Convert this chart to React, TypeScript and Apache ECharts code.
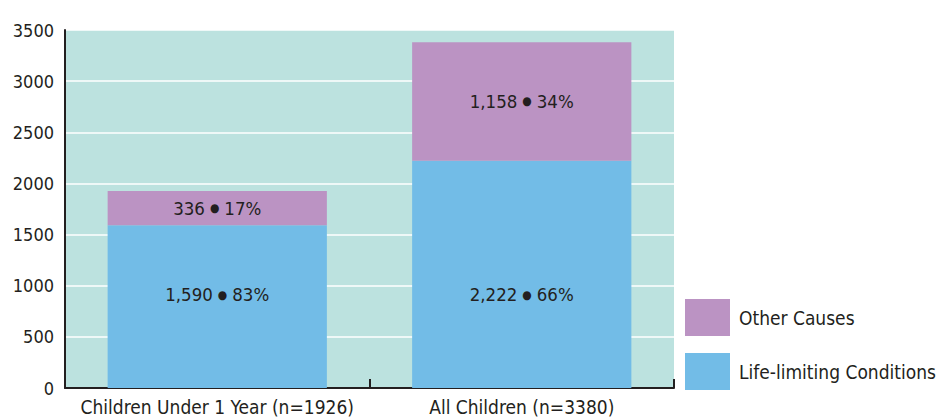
import React, { useEffect, useRef } from "react";
import * as echarts from "echarts";

const categories = ["Children Under 1 Year (n=1926)", "All Children (n=3380)"];
const lifeLimiting = [1590, 2222];
const otherCauses = [336, 1158];
const lifePct = ["83%", "66%"];
const otherPct = ["17%", "34%"];
const yTicks = [0, 500, 1000, 1500, 2000, 2500, 3000, 3500];

const FONT = "'DejaVu Sans Condensed', 'Liberation Sans Narrow', 'Roboto', sans-serif";
const fmt = (v: number) => v.toLocaleString("en-US");

const labelRich = {
  n: { fontFamily: FONT, fontSize: 18.5, color: "#231f20", verticalAlign: "middle" },
  b: { fontFamily: FONT, fontSize: 12, color: "#231f20", padding: [0, 5, 0, 5], verticalAlign: "middle" },
};

export default function App() {
  const ref = useRef<HTMLDivElement>(null);
  useEffect(() => {
    document.body.style.margin = "0";
    const chart = echarts.init(ref.current!, undefined, { renderer: "svg" });
    chart.setOption({
      animation: false,
      textStyle: { fontFamily: FONT, color: "#231f20" },
      grid: {
        left: 65,
        right: 264,
        top: 30,
        bottom: 30,
        show: true,
        backgroundColor: "#bce2df",
        borderWidth: 0,
      },
      legend: {
        orient: "vertical",
        left: 685,
        top: 299,
        padding: 0,
        itemWidth: 45,
        itemHeight: 37,
        itemGap: 17,
        icon: "rect",
        data: ["Other Causes", "Life-limiting Conditions"],
        textStyle: { fontFamily: FONT, fontSize: 19, color: "#231f20", padding: [0, 0, 0, 4] },
      },
      xAxis: {
        type: "category",
        data: categories,
        axisLine: { show: true, lineStyle: { color: "#231f20", width: 2 } },
        axisTick: { show: true, inside: true, length: 9, lineStyle: { color: "#231f20", width: 2 } },
        axisLabel: { interval: 0, fontFamily: FONT, fontSize: 19, color: "#231f20", margin: 9 },
      },
      yAxis: {
        type: "value",
        min: yTicks[0],
        max: yTicks[yTicks.length - 1],
        interval: 500,
        axisLine: { show: true, lineStyle: { color: "#231f20", width: 2 } },
        axisTick: { show: false },
        splitLine: { show: true, lineStyle: { color: "#ffffff", width: 1.5 } },
        axisLabel: {
          fontFamily: FONT,
          fontSize: 18,
          color: "#231f20",
          margin: 11,
          formatter: (v: number) => String(v),
        },
      },
      series: [
        {
          name: "Life-limiting Conditions",
          type: "bar",
          stack: "total",
          barWidth: "72%",
          data: lifeLimiting,
          itemStyle: { color: "#72bce7" },
          label: {
            show: true,
            position: "insideBottom",
            distance: 84,
            rich: labelRich,
            formatter: (p: any) => `{n|${fmt(p.value)}}{b|\u25CF}{n|${lifePct[p.dataIndex]}}`,
          },
        },
        {
          name: "Other Causes",
          type: "bar",
          stack: "total",
          barWidth: "72%",
          data: otherCauses,
          itemStyle: { color: "#bb93c3" },
          label: {
            show: true,
            position: "inside",
            rich: labelRich,
            formatter: (p: any) => `{n|${fmt(p.value)}}{b|\u25CF}{n|${otherPct[p.dataIndex]}}`,
          },
        },
      ],
    });
    return () => chart.dispose();
  }, []);
  return <div ref={ref} style={{ width: 938, height: 418 }} />;
}
